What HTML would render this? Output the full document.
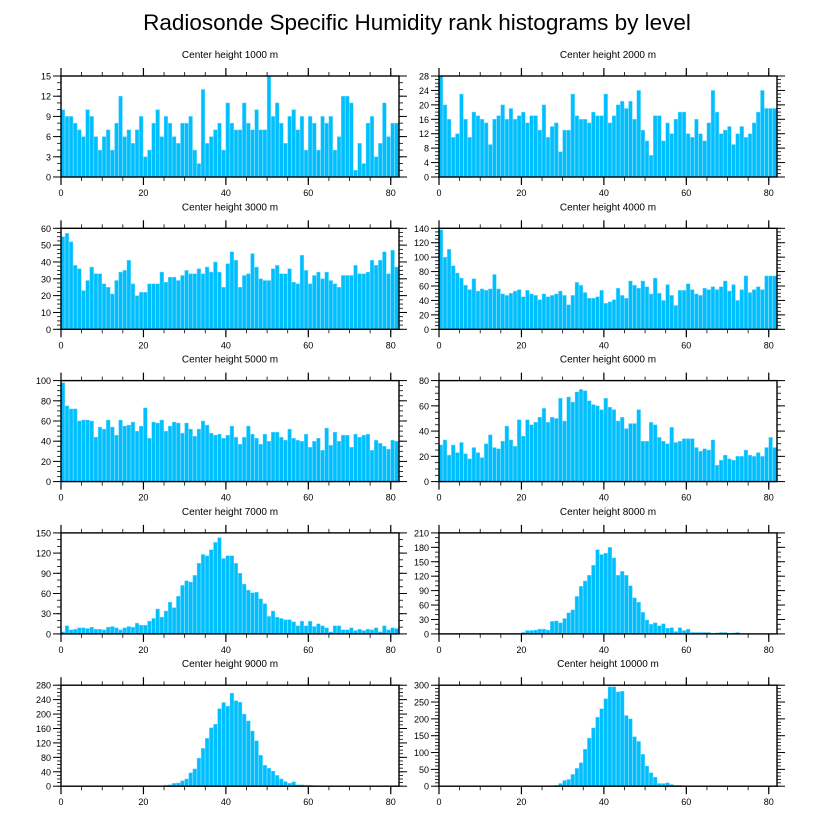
<!DOCTYPE html>
<html><head><meta charset="utf-8"><style>
body{margin:0;background:#fff}
svg{display:block;font-family:"Liberation Sans",sans-serif}
</style></head><body>
<svg id="c" width="816" height="824" viewBox="0 0 816 824">
<text x="417" y="30" font-size="22.5" text-anchor="middle">Radiosonde Specific Humidity rank histograms by level</text>
</svg>
<script>
const panelTitles=["Center height 1000 m","Center height 2000 m","Center height 3000 m","Center height 4000 m","Center height 5000 m","Center height 6000 m","Center height 7000 m","Center height 8000 m","Center height 9000 m","Center height 10000 m"];
const yMax=[15,28,60,140,100,80,150,210,280,300];
const yStep=[3,4,10,20,20,20,30,30,40,50];
const xTicks=[0,20,40,60,80];
const h1000=[10,9,9,8,7,6,10,9,6,4,6,7,4,8,12,6,7,5,7,9,3,4,8,10,6,9,8,6,5,8,8,9,4,2,13,5,6,7,8,4,11,8,7,7,11,8,7,10,7,7,15,9,11,8,5,9,10,7,9,4,9,8,4,9,8,9,4,6,12,12,11,1,5,2,8,9,3,5,11,6,8,8];
const h2000=[28,20,16,11,12,23,16,11,18,17,16,15,9,16,17,20,16,19,16,17,18,15,17,17,13,20,11,14,15,7,13,13,23,17,16,16,15,18,17,17,23,15,17,20,21,19,21,16,24,13,10,6,17,17,10,15,12,16,18,18,12,11,16,12,10,15,24,18,12,13,14,9,12,14,11,12,15,18,24,19,19,19];
const h3000=[55,57,52,38,36,23,29,37,33,33,27,25,21,29,34,35,41,27,20,22,22,27,27,27,34,28,31,31,29,32,35,33,33,36,33,37,34,40,34,25,39,46,41,25,32,33,45,37,30,29,29,36,38,33,33,36,28,27,44,35,27,32,34,30,34,29,27,25,32,32,32,38,33,33,34,41,38,41,46,33,47,37];
const h4000=[138,100,111,88,78,71,61,55,70,53,56,54,56,76,56,49,47,50,53,55,45,54,49,47,41,49,45,47,49,53,47,34,47,65,61,51,43,43,45,54,36,38,41,57,47,43,67,61,57,67,59,49,71,50,40,62,47,33,54,54,63,55,49,47,57,55,59,55,59,67,53,62,40,55,74,51,55,59,55,74,74,74];
const h5000=[98,75,72,72,60,61,61,60,44,54,52,61,54,46,61,55,56,59,50,55,73,43,59,58,61,50,55,59,58,48,58,52,45,52,60,56,48,46,47,43,46,55,44,37,44,55,47,43,37,47,40,49,49,44,41,52,43,41,40,47,34,40,43,31,53,36,49,40,46,46,34,47,44,46,47,31,41,38,35,32,41,40];
const h6000=[29,33,21,29,23,31,22,18,27,23,19,30,37,27,26,32,44,33,28,49,36,49,45,47,51,58,47,51,50,66,48,67,63,71,73,72,64,61,60,57,66,59,57,48,51,42,46,46,57,32,32,47,45,35,32,30,43,31,32,34,34,34,27,24,26,25,33,13,17,21,18,17,20,20,25,21,20,23,20,27,35,27];
const h7000=[3,12,6,7,9,9,8,10,7,7,6,10,11,9,6,9,11,10,16,13,13,19,23,37,25,34,47,39,56,72,79,77,87,105,118,116,125,136,143,112,116,116,105,90,74,65,61,62,52,45,26,34,25,23,21,21,18,12,19,12,19,11,15,12,9,3,12,12,6,6,9,5,7,5,7,6,9,3,12,6,9,8];
const h8000=[1,1,1,1,1,1,1,1,1,1,1,1,1,1,1,1,1,1,1,1,3,7,7,8,10,10,8,26,27,23,32,44,50,78,99,110,122,143,175,165,168,180,158,122,130,122,100,75,66,45,29,20,23,17,21,12,13,5,13,7,10,3,3,3,3,3,1,2,3,3,1,2,3,0,0,0,0,0,0,0,0,0];
const h9000=[0,0,0,0,0,0,0,0,0,0,0,0,0,0,0,0,0,0,0,0,0,0,0,0,0,3,4,8,9,15,20,37,48,78,105,133,162,172,215,232,222,258,237,233,200,181,153,126,86,58,50,42,30,20,13,8,12,4,4,3,3,2,1,0,0,0,0,0,0,0,0,0,0,0,0,0,0,0,0,0,0,0];
const h10000=[0,0,0,0,0,0,0,0,0,0,0,0,0,0,0,0,0,0,0,0,0,0,0,0,0,0,1,2,3,8,17,20,35,53,70,110,143,173,205,230,260,295,295,280,282,210,200,147,133,95,60,40,27,8,8,10,5,3,3,2,1,0,0,0,0,0,0,0,0,0,0,0];
const series=[h1000,h2000,h3000,h4000,h5000,h6000,h7000,h8000,h9000,h10000];

const NS="http://www.w3.org/2000/svg";
const svg=document.getElementById('c');
function mk(tag,at,parent){const e=document.createElementNS(NS,tag);for(const k in at)e.setAttribute(k,at[k]);(parent||svg).appendChild(e);return e;}
const PW=338,PH=101,XMAX=82;
const minorDiv=[3,4,4,4,4,4,3,3,4,5];
for(let p=0;p<10;p++){
  const col=p%2,row=Math.floor(p/2);
  const x0=col?439:61, y0=76+row*152.3;
  const g=mk('g',{});
  
  
  const xs=v=>x0+v/XMAX*PW;
  const ys=v=>y0+PH-v/yMax[p]*PH;
  const t=mk('text',{x:x0+PW/2,y:y0-18,'font-size':10,'text-anchor':'middle'},g);
  t.textContent=panelTitles[p];
  
  
  const d=series[p];
  for(let i=0;i<d.length;i++){
    const v=Math.min(d[i],yMax[p]);
    const b=mk('rect',{x:xs(i),y:ys(v),width:Math.max(0,xs(i+1)-xs(i)-0.4),height:ys(0)-ys(v),fill:'#00bfff',stroke:'#6fd8ff','stroke-width':0.4},g);
    
    
  }
  const mStep=yStep[p]/minorDiv[p];
  for(let v=0;v<=yMax[p]+1e-9;v+=mStep){
    const y=ys(v);
    mk('line',{x1:x0-4,x2:x0,y1:y,y2:y,stroke:'#000','stroke-width':0.8},g);
    mk('line',{x1:x0+PW,x2:x0+PW+4,y1:y,y2:y,stroke:'#000','stroke-width':0.8},g);
  }
  for(let v=0;v<=yMax[p]+1e-9;v+=yStep[p]){
    const y=ys(v);
    mk('line',{x1:x0-8,x2:x0,y1:y,y2:y,stroke:'#000','stroke-width':1},g);
    mk('line',{x1:x0+PW,x2:x0+PW+8,y1:y,y2:y,stroke:'#000','stroke-width':1},g);
    const l=mk('text',{x:x0-10,y:y+3.5,'font-size':9,'text-anchor':'end'},g);
    l.textContent=v;
    
    
  }
  for(let v=0;v<=XMAX;v+=5){
    const x=xs(v);
    mk('line',{x1:x,x2:x,y1:y0-4,y2:y0,stroke:'#000','stroke-width':0.8},g);
    mk('line',{x1:x,x2:x,y1:y0+PH,y2:y0+PH+4,stroke:'#000','stroke-width':0.8},g);
  }
  xTicks.forEach(v=>{
    const x=xs(v);
    mk('line',{x1:x,x2:x,y1:y0-8,y2:y0,stroke:'#000','stroke-width':1.2},g);
    mk('line',{x1:x,x2:x,y1:y0+PH,y2:y0+PH+8,stroke:'#000','stroke-width':1.2},g);
    const l=mk('text',{x:x,y:y0+PH+19,'font-size':9,'text-anchor':'middle'},g);
    l.textContent=v;
    
    
  });
  const f=mk('rect',{x:x0,y:y0,width:PW,height:PH,fill:'none',stroke:'#000','stroke-width':1.4},g);
  
  
}
</script>
</body></html>
